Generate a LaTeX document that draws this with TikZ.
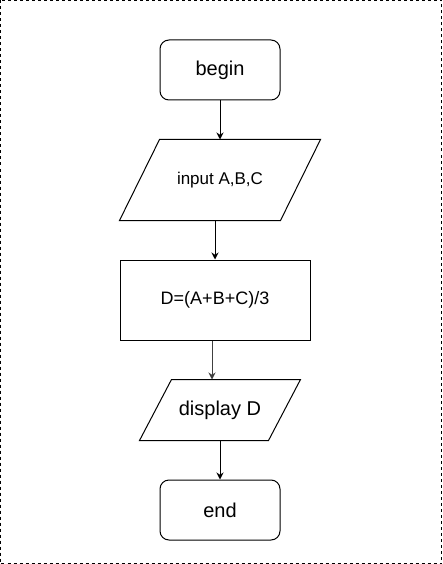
\documentclass[tikz,border=0pt]{standalone}
\usepackage{fontspec}
\setmainfont{Liberation Sans}
\usetikzlibrary{arrows.meta,positioning}
% parallelogram outline round a named node: #1 name, #2 half slant
\newcommand{\ioframe}[2]{%
  \draw ([xshift=#2]#1.north west) -- ([xshift=#2]#1.north east)
     -- ([xshift=-#2]#1.south east) -- ([xshift=-#2]#1.south west) -- cycle;}

\begin{document}
\begin{tikzpicture}[
      x=1pt, y=-1pt,
      node distance=39pt,
      line width=1pt,
      term/.style={draw, rounded corners=9pt, align=center,
                   minimum width=120pt, minimum height=60pt, inner sep=1pt,
                   font=\fontsize{20}{24}\selectfont},
      io/.style={align=center, inner sep=1pt},
      proc/.style={draw, align=center, minimum width=190pt, minimum height=80pt,
                   inner sep=1pt, font=\fontsize{18}{22}\selectfont},
      arr/.style={-{Stealth[length=7pt,width=7pt]}, line width=1pt}
    ]
    % page frame
    \draw[dashed, dash pattern=on 3pt off 3pt] (0.5,0.5) rectangle (441.5,563.5);

    \node[term] (begin) at (220,70) {begin};
    \node[io, below=of begin, minimum width=160pt, minimum height=80pt,
          font=\fontsize{17}{20}\selectfont] (input) {input A,B,C};
    \node[proc, below=of input, xshift=-5pt] (calc) {D=(A+B+C)/3};
    \node[io, below=of calc, xshift=5pt, minimum width=128pt, minimum height=60pt,
          font=\fontsize{20}{24}\selectfont] (disp) {display D};
    \node[term, below=of disp] (end) {end};

    \ioframe{input}{20pt}
    \ioframe{disp}{16pt}

    \draw[arr] (begin) -- (input);
    \draw[arr] (input.south -| calc.north) -- (calc.north);
    \draw[arr, black!75] ([xshift=-3pt]calc.south) -- ([xshift=-3pt]calc.south |- disp.north);
    \draw[arr] (disp) -- (end);
  \end{tikzpicture}
\end{document}
